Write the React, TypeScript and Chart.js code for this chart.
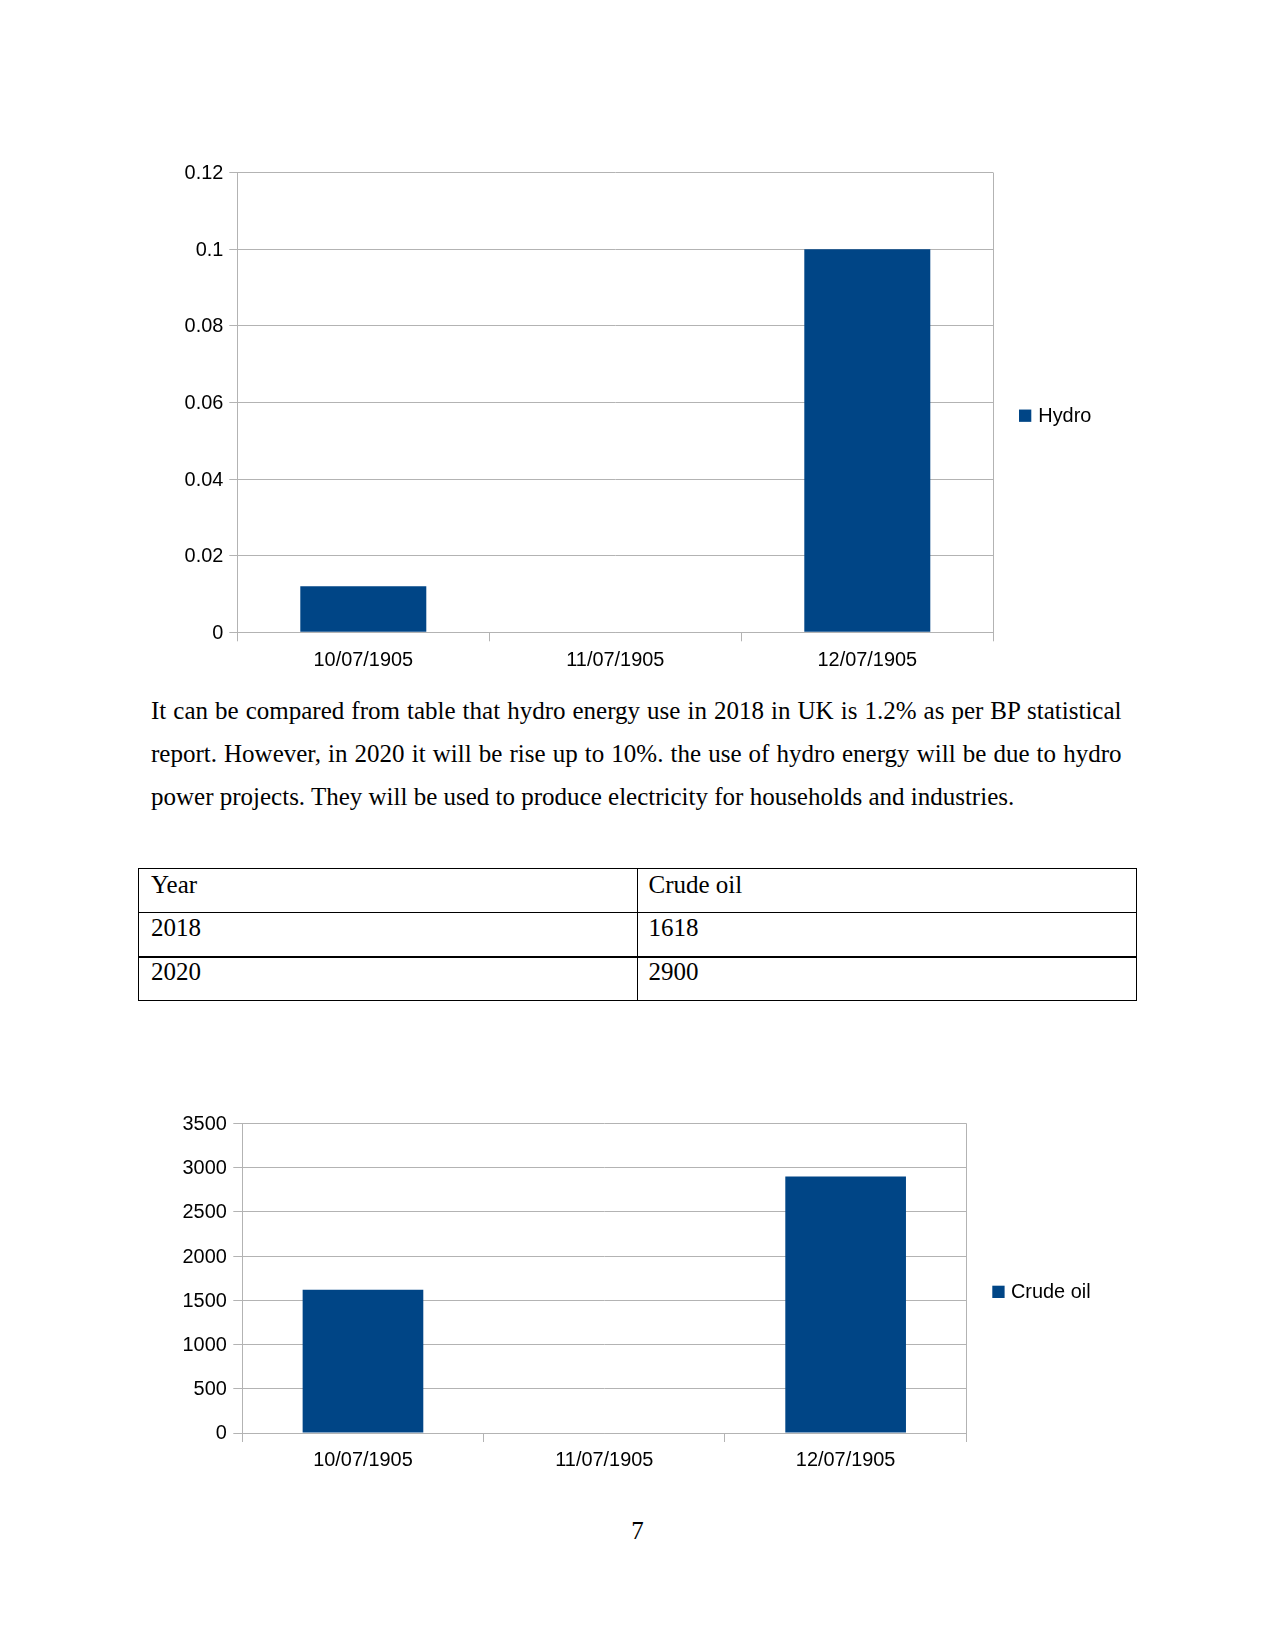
import React, { useEffect, useRef } from "react";
import { Chart, registerables } from "chart.js";

Chart.register(...registerables);

const categories = ["10/07/1905", "11/07/1905", "12/07/1905"];
const hydroLabel = "Hydro";
const hydroValues = [0.012, null, 0.1];
const hydroTicks = [0, 0.02, 0.04, 0.06, 0.08, 0.1, 0.12];
const crudeLabel = "Crude oil";
const crudeValues = [1618, null, 2900];
const crudeTicks = [0, 500, 1000, 1500, 2000, 2500, 3000, 3500];
const tableRows = [
  ["Year", "Crude oil"],
  ["2018", "1618"],
  ["2020", "2900"],
];
const paragraphLines = [
  "It can be compared from table that hydro energy use in 2018 in UK is 1.2% as per BP statistical",
  "report. However, in 2020 it will be rise up to 10%. the use of hydro energy will be due to hydro",
  "power projects. They will be used to produce electricity for households and industries.",
];
const pageNumber = "7";

const BAR = "#004586";
const GRID = "#b3b3b3";
const FONT = '"Liberation Sans", Arial, sans-serif';
const SERIF = '"Liberation Serif", "Times New Roman", serif';
const TICK_SIZE = 19.9;

const sideLegend = {
  id: "sideLegend",
  afterDraw(chart: any) {
    const o = chart.options.plugins.sideLegend;
    if (!o) return;
    const { ctx, chartArea } = chart;
    const ds = chart.data.datasets[0];
    const size = 12.3;
    const x = chartArea.right + o.offsetX;
    const cy = (chartArea.top + chartArea.bottom) / 2 + o.offsetY;
    ctx.save();
    ctx.fillStyle = ds.backgroundColor;
    ctx.fillRect(x, cy - size / 2, size, size);
    ctx.fillStyle = "#000";
    ctx.font = `${o.fontSize}px ${FONT}`;
    ctx.textBaseline = "middle";
    ctx.textAlign = "left";
    ctx.fillText(ds.label, x + size + o.textGap, cy + 1);
    ctx.restore();
  },
};

function makeConfig(cfg: any): any {
  return {
    type: "bar",
    data: {
      labels: categories,
      datasets: [
        {
          label: cfg.label,
          data: cfg.values,
          backgroundColor: BAR,
          borderWidth: 0,
          categoryPercentage: 1,
          barPercentage: 0.5,
        },
      ],
    },
    plugins: [sideLegend],
    options: {
      animation: false,
      responsive: false,
      maintainAspectRatio: false,
      layout: { padding: { left: 0, top: cfg.padTop, right: cfg.padRight, bottom: 0 } },
      plugins: {
        legend: { display: false },
        tooltip: { enabled: false },
        sideLegend: { offsetX: cfg.legendX, offsetY: cfg.legendY, textGap: cfg.textGap, fontSize: TICK_SIZE },
      },
      scales: {
        x: {
          offset: true,
          grid: {
            offset: true,
            drawOnChartArea: true,
            color: (c: any) => (c.index === undefined ? GRID : "rgba(0,0,0,0)"),
            tickColor: GRID,
            tickLength: cfg.xTickLen,
            lineWidth: 1,
          },
          border: { display: true, color: GRID, width: 1 },
          ticks: {
            color: "#000",
            font: { family: FONT, size: TICK_SIZE },
            padding: 7,
            maxRotation: 0,
            autoSkip: false,
          },
          afterFit: (s: any) => {
            s.height = cfg.xHeight;
          },
        },
        y: {
          min: cfg.ticks[0],
          max: cfg.ticks[cfg.ticks.length - 1],
          afterBuildTicks: (axis: any) => {
            axis.ticks = cfg.ticks.map((v: number) => ({ value: v }));
          },
          grid: {
            color: GRID,
            tickColor: GRID,
            tickLength: cfg.yTickLen,
            lineWidth: 1,
          },
          border: { display: true, color: GRID, width: 1 },
          ticks: {
            color: "#000",
            font: { family: FONT, size: TICK_SIZE },
            padding: cfg.yPad,
            labelOffset: 1,
            callback: (v: any) => String(v),
          },
          afterFit: (s: any) => {
            s.width = cfg.yWidth;
          },
        },
      },
    },
  };
}

export default function App() {
  const c1 = useRef<HTMLCanvasElement>(null);
  const c2 = useRef<HTMLCanvasElement>(null);

  useEffect(() => {
    const ch1 = new Chart(
      c1.current as HTMLCanvasElement,
      makeConfig({
        label: hydroLabel,
        values: hydroValues,
        ticks: hydroTicks,
        padTop: 22.7,
        padRight: 106.7,
        yWidth: 97.3,
        xHeight: 47.7,
        xTickLen: 9,
        yTickLen: 8,
        yPad: 6,
        legendX: 25.7,
        legendY: 13.2,
        textGap: 7,
      })
    );
    const ch2 = new Chart(
      c2.current as HTMLCanvasElement,
      makeConfig({
        label: crudeLabel,
        values: crudeValues,
        ticks: crudeTicks,
        padTop: 23.3,
        padRight: 133.7,
        yWidth: 102.3,
        xHeight: 57,
        xTickLen: 9,
        yTickLen: 9,
        yPad: 6.5,
        legendX: 26,
        legendY: 13.7,
        textGap: 6.4,
      })
    );
    return () => {
      ch1.destroy();
      ch2.destroy();
    };
  }, []);

  const abs = (l: number, t: number, extra: any = {}) => ({
    position: "absolute" as const,
    left: l,
    top: t,
    ...extra,
  });

  const textStyle = {
    fontFamily: SERIF,
    fontSize: 25,
    lineHeight: "30px",
    color: "#000",
    whiteSpace: "nowrap" as const,
  };

  const rowTops = [869.5, 913.2, 957.2];
  const colLefts = [151, 648.5];

  return (
    <div style={{ position: "absolute", left: 0, top: 0, width: 1275, height: 1651, background: "#fff", overflow: "hidden" }}>
      <canvas ref={c1} width={960} height={530} style={abs(140, 150, { display: "block" })} />

      {paragraphLines.map((line, i) => (
        <div
          key={i}
          style={abs(151, 695.9 + i * 43.1, {
            ...textStyle,
            width: 970.5,
            textAlign: i < 2 ? "justify" : "left",
            textAlignLast: i < 2 ? "justify" : "left",
          })}
        >
          {line}
        </div>
      ))}

      {/* table borders */}
      <div style={abs(138, 867.5, { width: 998, height: 1, background: "#000" })} />
      <div style={abs(138, 911.5, { width: 998, height: 1, background: "#000" })} />
      <div style={abs(138, 956, { width: 998, height: 2, background: "#000" })} />
      <div style={abs(138, 999.5, { width: 998, height: 1, background: "#000" })} />
      <div style={abs(138, 867.5, { width: 1, height: 133, background: "#000" })} />
      <div style={abs(636.7, 867.5, { width: 1, height: 133, background: "#000" })} />
      <div style={abs(1135.5, 867.5, { width: 1, height: 133, background: "#000" })} />
      {tableRows.map((row, r) =>
        row.map((cell, c) => (
          <div key={`${r}-${c}`} style={abs(colLefts[c], rowTops[r], textStyle)}>
            {cell}
          </div>
        ))
      )}

      <canvas ref={c2} width={960} height={390} style={abs(140, 1100, { display: "block" })} />

      <div style={abs(0, 1515.9, { ...textStyle, width: 1275, textAlign: "center" })}>{pageNumber}</div>
    </div>
  );
}
